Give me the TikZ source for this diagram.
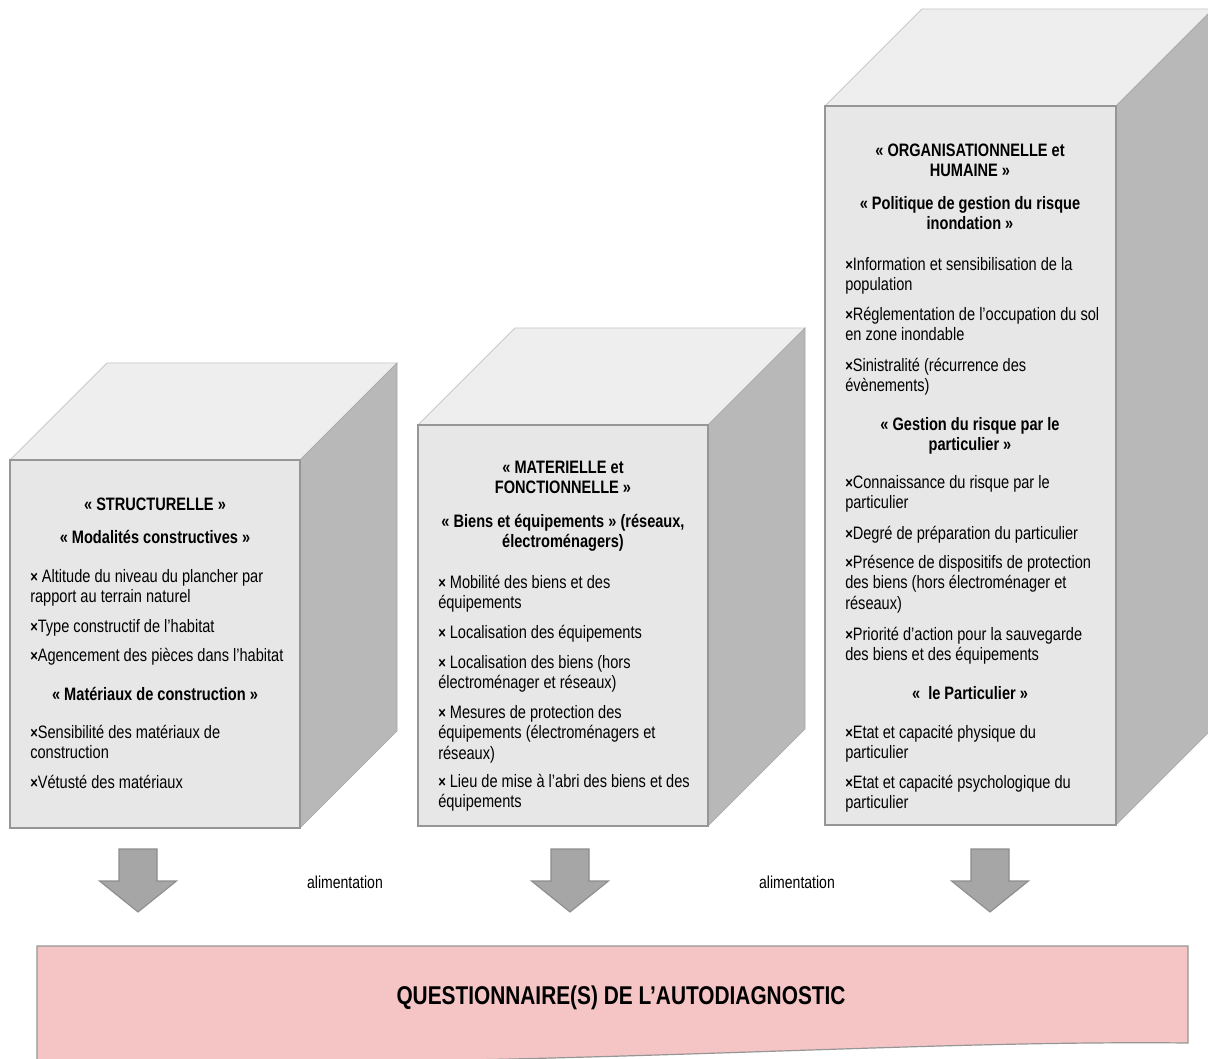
\documentclass[tikz,border=0pt]{standalone}
\usepackage{fontspec}
\setmainfont[FakeStretch=0.81]{Liberation Sans}
\definecolor{frontc}{RGB}{231,231,231}
\definecolor{topc}{RGB}{238,238,238}
\definecolor{sidec}{RGB}{184,184,184}
\definecolor{edgec}{RGB}{150,150,150}
\definecolor{lightedge}{RGB}{200,200,200}
\definecolor{arrowc}{RGB}{166,166,166}
\definecolor{arrowedge}{RGB}{140,140,140}
\definecolor{pinkc}{RGB}{245,197,197}
\newcommand\bodyf{\fontsize{13.5}{15.4}\selectfont}
\newcommand\bodybf{\fontsize{13.5}{15.4}\selectfont\bfseries}
\newcommand\st{\rule{0pt}{12pt}}
\newcommand\bx{{\fontsize{12}{12}\selectfont\bfseries ×}}
\begin{document}
\begin{tikzpicture}[x=0.75pt,y=-0.75pt,
  face/.style={draw=edgec, line width=0.9pt, fill=frontc, inner sep=0, outer sep=0},
  topface/.style={draw=lightedge, line width=0.6pt, fill=topc},
  sideface/.style={draw=sidec!90!black, line width=0.5pt, fill=sidec},
  itm/.style={anchor=north west, inner sep=0, align=left, font=\bodyf},
  hd/.style={anchor=north, inner sep=0, align=center, font=\bodybf},
  garrow/.pic={\path[fill=arrowc, draw=arrowedge, line width=0.8pt]
     (-19,0) -- (19,0) -- (19,32) -- (38.5,32) -- (0,63) -- (-38.5,32) -- (-19,32) -- cycle;}
]
\clip (0,0) rectangle (1208,1059);
\fill[white] (0,0) rectangle (1208,1059);

% ---------- cube faces ----------
\node[face, minimum width=217.5pt, minimum height=276pt] (f1) at (155,644) {};
\node[face, minimum width=217.5pt, minimum height=300.75pt] (f2) at (563,625.5) {};
\node[face, minimum width=218.25pt, minimum height=539.25pt] (f3) at (970.5,465.5) {};
\foreach \f in {f1,f2,f3}{
  \path[topface] (\f.north west) -- ([shift={(97,-97)}]\f.north west)
     -- ([shift={(97,-97)}]\f.north east) -- (\f.north east) -- cycle;
  \path[sideface] (\f.north east) -- ([shift={(97,-97)}]\f.north east)
     -- ([shift={(97,-97)}]\f.south east) -- (\f.south east) -- cycle;
  \draw[edgec, line width=0.9pt] (\f.north west) rectangle (\f.south east);
}

% ---------- box 1 ----------
\node[hd] (t1a) at (155,494) {\st« STRUCTURELLE »};
\node[hd] (t1b) at (155,527) {\st« Modalités constructives »};
\node[itm] (t1c) at (30,566) {\st\bx{} Altitude du niveau du plancher par\\rapport au terrain naturel};
\node[itm] (t1d) at (30,616) {\st\bx Type constructif de l’habitat};
\node[itm] (t1e) at (30,645) {\st\bx Agencement des pièces dans l’habitat};
\node[hd] (t1f) at (155,684) {\st« Matériaux de construction »};
\node[itm] (t1g) at (30,722) {\st\bx Sensibilité des matériaux de\\construction};
\node[itm] (t1h) at (30,772) {\st\bx Vétusté des matériaux};

% ---------- box 2 ----------
\node[hd] (t2a) at (563,457) {\st« MATERIELLE et\\FONCTIONNELLE »};
\node[hd] (t2b) at (563,511) {\st« Biens et équipements » (réseaux,\\électroménagers)};
\node[itm] (t2c) at (438,572) {\st\bx{} Mobilité des biens et des\\équipements};
\node[itm] (t2d) at (438,622) {\st\bx{} Localisation des équipements};
\node[itm] (t2e) at (438,652) {\st\bx{} Localisation des biens (hors\\électroménager et réseaux)};
\node[itm] (t2f) at (438,702) {\st\bx{} Mesures de protection des\\équipements (électroménagers et\\réseaux)};
\node[itm] (t2g) at (438,771) {\st\bx{} Lieu de mise à l’abri des biens et des\\équipements};

% ---------- box 3 ----------
\node[hd] (t3a) at (970,140) {\st« ORGANISATIONNELLE et\\HUMAINE »};
\node[hd] (t3b) at (970,193) {\st« Politique de gestion du risque\\inondation »};
\node[itm] (t3c) at (845,254) {\st\bx Information et sensibilisation de la\\population};
\node[itm] (t3d) at (845,304) {\st\bx Réglementation de l’occupation du sol\\en zone inondable};
\node[itm] (t3e) at (845,355) {\st\bx Sinistralité (récurrence des\\évènements)};
\node[hd] (t3f) at (970,414) {\st« Gestion du risque par le\\particulier »};
\node[itm] (t3g) at (845,472) {\st\bx Connaissance du risque par le\\particulier};
\node[itm] (t3h) at (845,523) {\st\bx Degré de préparation du particulier};
\node[itm] (t3i) at (845,552) {\st\bx Présence de dispositifs de protection\\des biens (hors électroménager et\\réseaux)};
\node[itm] (t3j) at (845,624) {\st\bx Priorité d’action pour la sauvegarde\\des biens et des équipements};
\node[hd] (t3k) at (970,683) {\st«~~le Particulier »};
\node[itm] (t3l) at (845,722) {\st\bx Etat et capacité physique du\\particulier};
\node[itm] (t3m) at (845,772) {\st\bx Etat et capacité psychologique du\\particulier};

% ---------- arrows ----------
\pic (a1) at (138,849) {garrow};
\pic (a2) at (570,849) {garrow};
\pic (a3) at (990,849) {garrow};
\node[font=\fontsize{13}{15}\selectfont] (al1) at (345,882) {alimentation};
\node[font=\fontsize{13}{15}\selectfont] (al2) at (797,882) {alimentation};

% ---------- questionnaire ----------
\path[fill=pinkc, draw=edgec, line width=0.9pt] (37,1064) -- (37,946) -- (1188,946) -- (1188,1043)
   .. controls (900,1040) and (600,1066) .. (37,1064);
\node[font=\fontsize{19.3}{22}\selectfont\bfseries] (q) at (621,998) {QUESTIONNAIRE(S) DE L’AUTODIAGNOSTIC};
\end{tikzpicture}
\end{document}
